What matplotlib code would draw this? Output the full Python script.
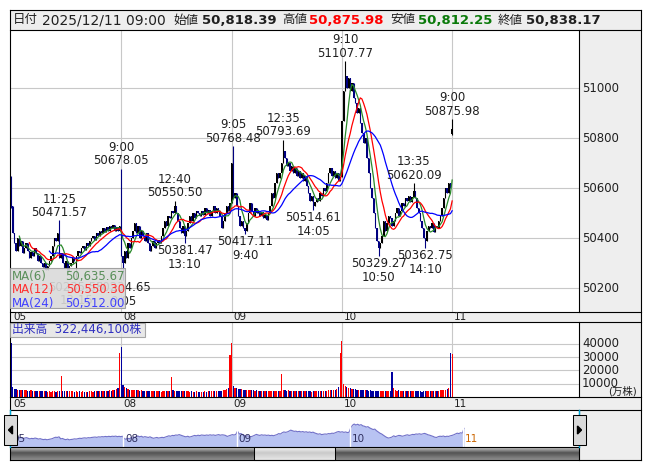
import numpy as np
import pandas as pd
import matplotlib
matplotlib.use('Agg')
import matplotlib.pyplot as plt
from matplotlib.patches import Rectangle, Polygon

plt.rcParams['font.family'] = ['DejaVu Sans', 'Noto Sans CJK JP']

# 5-minute closes, 66 bars a day (9:00-11:25, 12:30-15:25)
close_05 = [50530,
            50420, 50380, 50350, 50400, 50370, 50390, 50340, 50360, 50380, 50350,
            50320, 50345, 50330, 50360, 50340, 50310, 50330, 50300,
            50285, 50300, 50275, 50290, 50310, 50330,
            50370, 50400, 50390, 50420, 50320,
            50340, 50300, 50280, 50310, 50270, 50290, 50300, 50320, 50310,
            50330, 50350, 50340, 50360, 50370, 50355, 50380, 50370, 50390, 50400,
            50410, 50395, 50420, 50410, 50430, 50420, 50440, 50425, 50445, 50430,
            50450, 50440, 50455, 50430, 50445, 50430, 50450]
close_08 = [50330, 50300,
            50350, 50320, 50380, 50360, 50400,
            50430, 50460, 50420, 50450, 50400, 50430, 50410, 50390, 50420, 50380,
            50350, 50370, 50390, 50360, 50380, 50395, 50380,
            50410, 50440, 50470, 50450, 50490, 50480, 50510, 50500, 50530,
            50500, 50470, 50440, 50420, 50450, 50410,
            50430, 50460, 50490, 50470, 50500, 50480, 50510, 50500,
            50490, 50510, 50495, 50520, 50500, 50515, 50490, 50510, 50530, 50500, 50520, 50510,
            50490, 50440, 50470, 50500, 50530, 50510, 50540]
close_09 = [50700, 50560,
            50580, 50530, 50490, 50450, 50470, 50440, 50430, 50460,
            50500, 50540, 50510, 50490, 50520, 50500, 50510,
            50490, 50505, 50480, 50495, 50475, 50500,
            50530, 50580, 50560, 50620, 50660, 50640, 50660, 50700, 50750,
            50720, 50690, 50700, 50670, 50690, 50660, 50680, 50650,
            50670, 50640, 50660, 50630, 50650, 50610,
            50580, 50550, 50570, 50530, 50545, 50560, 50550,
            50580, 50570, 50600, 50590, 50620, 50660,
            50680, 50650, 50670, 50640, 50660, 50630, 50645]
close_10 = [50870, 50990, 51050, 51000, 51040, 50990, 51020, 50960,
            50940, 50900, 50920, 50860, 50820, 50780, 50800,
            50720, 50660, 50600, 50560,
            50500, 50440, 50390, 50360, 50380, 50410,
            50470, 50430, 50460, 50490, 50480, 50450, 50470,
            50500, 50520, 50490, 50510, 50540, 50530,
            50560, 50550, 50570, 50545, 50565, 50590,
            50560, 50520, 50500, 50470, 50440, 50400, 50390,
            50430, 50450, 50440, 50460, 50425, 50450, 50440, 50470, 50490,
            50520, 50560, 50600, 50580, 50620, 50600]
close_11 = [50838.17]

# volume (10,000 shares)
vol_05 = [41000, 7600, 6200, 5800, 5600, 5400, 5200, 5000, 5300, 4900, 4800, 4700, 5000, 4600, 4500,
          4700, 4400, 4600, 4300, 4500, 4200, 4400, 4100, 4300, 4000, 4200, 4400, 4100, 4300, 4600,
          15500, 4800, 4500, 4600, 4300, 4400, 4200, 4500, 4100, 4300, 4000, 4200, 4100, 4300, 3900,
          4100, 4000, 4200, 4300, 4100, 4400, 4200, 4500, 4300, 4600, 4400, 4700, 4500, 4800, 5000,
          4800, 5200, 5500, 5900, 7000, 33000]
vol_08 = [37500, 9000, 7200, 6500, 6000, 5600, 5400, 5200, 5000, 5200, 4900, 4800, 5000, 4700, 4600,
          4800, 4500, 4600, 4400, 4500, 4300, 4500, 4200, 4400, 4100, 4300, 4200, 4400, 4500, 4700,
          15000, 5200, 4800, 4600, 4700, 4400, 4500, 4300, 4400, 4200, 4300, 4100, 4200, 4000, 4100,
          4200, 4000, 4100, 3900, 4000, 4200, 4100, 4300, 4200, 4400, 4300, 4500, 4400, 4600, 4800,
          4700, 5000, 5400, 5800, 6800, 32000]
vol_09 = [40500, 8200, 7000, 6500, 6200, 6000, 5800, 5600, 5400, 5500, 5200, 5000, 5100, 4900, 4800,
          5000, 4700, 4800, 4600, 4700, 4500, 4600, 4400, 4500, 4300, 4400, 4200, 4300, 4500, 4700,
          17000, 5600, 5000, 4800, 4900, 4600, 4700, 4500, 4600, 4400, 4500, 4300, 4400, 4200, 4300,
          4400, 4200, 4300, 4100, 4200, 4400, 4300, 4500, 4400, 4600, 4500, 4700, 4600, 5200, 4900,
          5000, 5300, 5600, 6000, 7200, 33500]
vol_10 = [42500, 10000, 8500, 7500, 7000, 6500, 6200, 6000, 5800, 5600, 5400, 5200, 5300, 5000, 4900,
          5100, 4800, 4900, 4700, 4800, 4600, 4700, 4500, 4600, 4400, 4500, 4300, 4400, 4600, 4800,
          18500, 7000, 5000, 4800, 4900, 4600, 4700, 4500, 4600, 4400, 4500, 4300, 4400, 4200, 4300,
          4400, 4200, 4300, 4100, 4200, 4400, 4300, 4500, 4400, 4600, 4500, 4700, 4600, 4800, 5000,
          4900, 5200, 5500, 6000, 7000, 33000]
vol_11 = [32244.61]

open_fix = {0: 50640, 66: 50600, 264: 50818.39}
high_fix = {0: 50650, 264: 50875.98}
low_fix = {0: 50520, 264: 50812.25}

# labelled session highs / lows: bar, kind, time, value
marks = [(29, 'high', '11:25', 50471.57), (39, 'low', '13:15', 50235.58),
         (66, 'high', '9:00', 50678.05), (67, 'low', '9:05', 50234.65),
         (98, 'high', '12:40', 50550.50), (104, 'low', '13:10', 50381.47),
         (133, 'high', '9:05', 50768.48), (140, 'low', '9:40', 50417.11),
         (163, 'high', '12:35', 50793.69), (181, 'low', '14:05', 50514.61),
         (200, 'high', '9:10', 51107.77), (220, 'low', '10:50', 50329.27),
         (241, 'high', '13:35', 50620.09), (248, 'low', '14:10', 50362.75),
         (264, 'high', '9:00', 50875.98)]

days = ['05', '08', '09', '10', '11']
day_start = [0, 66, 132, 198, 264]
price_ticks = [50200, 50400, 50600, 50800, 51000]
vol_ticks = [10000, 20000, 30000, 40000]
ma_windows = [6, 12, 24]
ma_colors = ['#2a8a2a', '#ff0000', '#0000ff']
ma_text = [('MA(6)', '50,635.67', '#5a8f5a'), ('MA(12)', '50,550.30', '#ff3030'),
           ('MA(24)', '50,512.00', '#4040ff')]

close = np.array(close_05 + close_08 + close_09 + close_10 + close_11, dtype=float)
vol = np.array(vol_05 + vol_08 + vol_09 + vol_10 + vol_11, dtype=float)
n = len(close)
x = np.arange(n)
opens = np.r_[close[0], close[:-1]]
for k, v in open_fix.items():
    opens[k] = v
high = np.maximum(opens, close)
low = np.minimum(opens, close)
for k, v in high_fix.items():
    high[k] = v
for k, v in low_fix.items():
    low[k] = v
for i, kind, t, v in marks:
    if kind == 'high':
        high[i] = max(high[i], v)
    else:
        low[i] = min(low[i], v)

W, H = 653, 470
fig = plt.figure(figsize=(W / 100, H / 100), dpi=100)


def box(x0, y0, x1, y1):
    return [x0 / W, 1 - y1 / H, (x1 - x0) / W, (y1 - y0) / H]


def bare(a):
    a.set_xticks([])
    a.set_yticks([])
    for s in a.spines.values():
        s.set_visible(False)


grid_c = '#c8c8c8'
X0, DX = 11.0, 1.671   # pixel of bar 0, pixels per bar in main panels

# ---- price panel
ax = fig.add_axes(box(10, 30, 579, 312))
bare(ax)
ax.set_xlim((10 - X0) / DX, (579 - X0) / DX)
ax.set_ylim(51000 - (312 - 88.3) * 4, 51000 + (88.3 - 30) * 4)
for p in price_ticks:
    ax.axhline(p, color=grid_c, lw=0.8, zorder=0)
for d in day_start[1:]:
    ax.axvline(d, color=grid_c, lw=0.8, zorder=0)

up = close >= opens
cols = np.where(up, '#000000', '#000080')
ax.vlines(x, low, high, colors=cols, lw=0.8, zorder=2)
ax.bar(x, np.maximum(np.abs(close - opens), 3), bottom=np.minimum(close, opens),
       width=0.8, color=cols, lw=0, zorder=2)

s = pd.Series(close)
for w, c in zip(ma_windows, ma_colors):
    ax.plot(x, s.rolling(w).mean(), color=c, lw=0.9, zorder=3)

for i, kind, t, v in marks:
    if kind == 'high':
        ax.annotate(f'{t}\n{v:.2f}', xy=(i, v), xytext=(0, 1), textcoords='offset points',
                    ha='center', va='bottom', fontsize=8.5, color='#202020',
                    linespacing=1.05, zorder=4)
    else:
        ax.annotate(f'{v:.2f}\n{t}', xy=(i, v), xytext=(0, -1), textcoords='offset points',
                    ha='center', va='top', fontsize=8.5, color='#202020',
                    linespacing=1.05, zorder=4)

# ---- volume panel
av = fig.add_axes(box(10, 322, 579, 397))
bare(av)
av.set_xlim(ax.get_xlim())
av.set_ylim(0, 56500)
for v in vol_ticks:
    av.axhline(v, color=grid_c, lw=0.8, zorder=0)
for d in day_start[1:]:
    av.axvline(d, color=grid_c, lw=0.8, zorder=0)
prev = np.r_[opens[0], close[:-1]]
vcols = np.where(close >= prev, '#ff0000', '#0000a0')
av.bar(x, vol, width=0.75, color=vcols, lw=0, zorder=2)

# ---- navigator
NDX = 1.716
an = fig.add_axes(box(10, 410, 579, 447))
bare(an)
an.set_xlim((10 - X0) / NDX, (579 - X0) / NDX)
an.set_ylim(49920, 51740)
an.fill_between(x, close, 49920, color='#b8c3f2', lw=0)
an.plot(x, close, color='#7070c8', lw=0.8)
for d in day_start[1:]:
    an.axvline(d - 0.5, color='white', lw=1)
for d, lab in zip(day_start, days):
    an.text(d + 0.6, 50050, lab, fontsize=7.5, va='bottom', ha='left',
            color='#cc6600' if lab == '11' else '#303060')

# ---- frame, strips, header, boxes
ov = fig.add_axes([0, 0, 1, 1])
ov.patch.set_alpha(0)
ov.axis('off')
gray = '#eeeeee'
for (x0, y0, x1, y1) in [(10, 10, 641, 30), (579, 30, 641, 312), (10, 312, 641, 322),
                         (579, 322, 641, 397), (10, 397, 641, 410), (579, 410, 641, 460)]:
    ov.add_patch(Rectangle((x0, y0), x1 - x0, y1 - y0, facecolor=gray, lw=0, zorder=1))

grad = np.r_[np.linspace(0.78, 0.35, 6), np.linspace(0.35, 0.55, 7)].reshape(-1, 1)
ov.imshow(grad, extent=(10, 579, 460, 447), aspect='auto', cmap='gray', vmin=0, vmax=1, zorder=1)
thumb = np.r_[np.linspace(0.95, 0.8, 6), np.linspace(0.8, 0.9, 7)].reshape(-1, 1)
ov.imshow(thumb, extent=(254, 335, 460, 447), aspect='auto', cmap='gray', vmin=0, vmax=1, zorder=2)
ov.add_patch(Rectangle((254, 447), 81, 13, fill=False, ec='black', lw=0.75, zorder=3))

lw = 0.8
for y, x0, x1 in [(10, 10, 641), (30, 10, 641), (312, 10, 641), (322, 10, 641), (397, 10, 641),
                  (410, 10, 641), (447, 10, 579), (460, 10, 641)]:
    ov.plot([x0, x1], [y, y], color='black', lw=lw, zorder=5)
for xx, y0, y1 in [(10, 10, 460), (641, 10, 460), (579, 30, 312), (579, 322, 397), (579, 410, 460)]:
    ov.plot([xx, xx], [y0, y1], color='black', lw=lw, zorder=5)
ov.plot([10, 10], [410, 447], color='#00a8d8', lw=1, zorder=6)
ov.plot([579, 579], [410, 447], color='#00a8d8', lw=1, zorder=6)

# navigator buttons
for bx, pts in [(4, [(12.5, 426), (12.5, 434), (8.5, 430)]),
                (573, [(577.5, 426), (577.5, 434), (581.5, 430)])]:
    ov.add_patch(Rectangle((bx, 415), 13, 30, facecolor='#dadada', ec='black', lw=0.75, zorder=6))
    ov.add_patch(Polygon(pts, closed=True, color='black', zorder=7))

# header
hdr = [(13, '日付', 'normal', '#202020', 9), (42, '2025/12/11 09:00', 'normal', '#202020', 10),
       (173, '始値', 'normal', '#202020', 9), (202, '50,818.39', 'bold', '#202020', 9.5),
       (282, '高値', 'normal', '#202020', 9), (309, '50,875.98', 'bold', '#ff0000', 9.5),
       (390, '安値', 'normal', '#202020', 9), (418, '50,812.25', 'bold', '#0a7a0a', 9.5),
       (498, '終値', 'normal', '#202020', 9), (526, '50,838.17', 'bold', '#202020', 9.5)]
for hx, t, wgt, c, fs in hdr:
    ov.text(hx, 20, t, fontsize=fs, fontweight=wgt, color=c, ha='left', va='center', zorder=6)

# axis labels on right
for p in price_ticks:
    yy = 88.3 + (51000 - p) / 4
    ov.text(582, yy, str(p), fontsize=8.5, color='#202020', ha='left', va='center', zorder=6)
for v in vol_ticks:
    yy = 397 - v / 56500 * 75
    ov.text(582, yy, str(v), fontsize=8.5, color='#202020', ha='left', va='center', zorder=6)
ov.text(637, 391, '(万株)', fontsize=7.5, color='#202020', ha='right', va='center', zorder=6)

# date strips
for d, lab in zip(day_start, days):
    px = X0 + d * DX + 2
    ov.text(px, 317.5, lab, fontsize=7.5, color='#202020', ha='left', va='center', zorder=6)
    ov.text(px, 404, lab, fontsize=7.5, color='#202020', ha='left', va='center', zorder=6)

# MA legend box
ov.add_patch(Rectangle((10, 268), 115, 40, facecolor='#dadada', alpha=0.9, ec='#999999',
                       lw=0.8, zorder=6))
for k, (name, val, c) in enumerate(ma_text):
    yy = 276.5 + k * 13.3
    ov.text(12, yy, name, fontsize=8.5, color=c, ha='left', va='center', zorder=7)
    ov.text(125, yy, val, fontsize=8.5, color=c, ha='right', va='center', zorder=7)

# volume box
ov.add_patch(Rectangle((10, 323), 135, 14, facecolor='#e4e4e4', alpha=0.85, ec='#999999',
                       lw=0.8, zorder=6))
ov.text(12, 330, '出来高  322,446,100株', fontsize=8.5, color='#3030c0', ha='left', va='center',
        zorder=7)

ov.set_xlim(0, W)
ov.set_ylim(H, 0)

fig.savefig('out.png', dpi=100)
